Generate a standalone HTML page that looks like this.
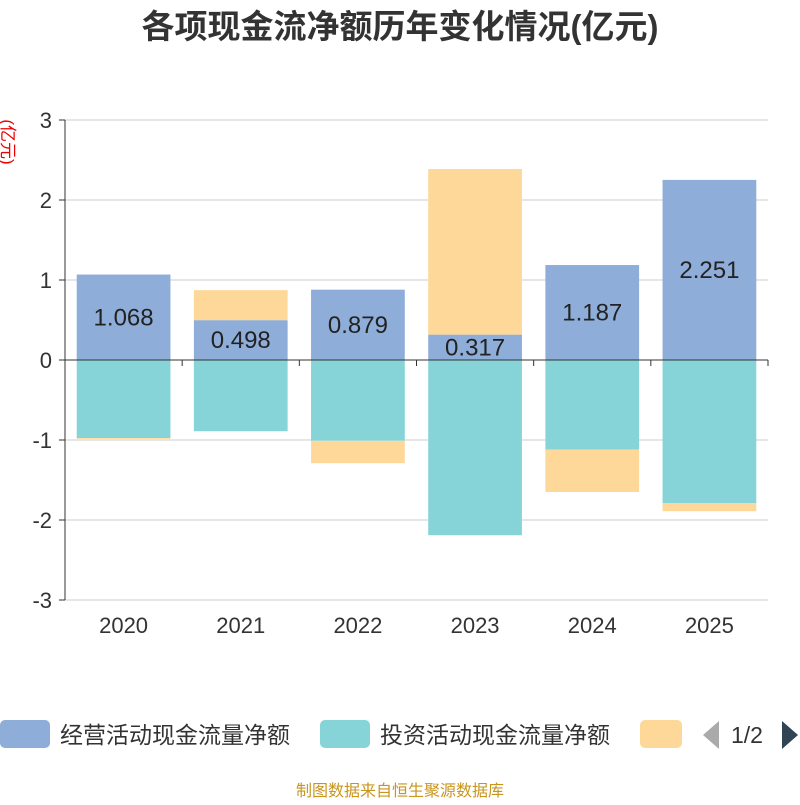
<!DOCTYPE html>
<html><head><meta charset="utf-8">
<style>
body{margin:0;background:#fff;}
svg text{font-family:"Liberation Sans","Noto Sans CJK SC",sans-serif;}
</style></head>
<body>
<svg id="c" width="800" height="800" xmlns="http://www.w3.org/2000/svg">
<text x="400" y="38" text-anchor="middle" font-size="33" font-weight="bold" fill="#333">各项现金流净额历年变化情况(亿元)</text>
<text transform="translate(2,142) rotate(90)" font-size="17" fill="#e00" text-anchor="middle">(亿元)</text>
<g id="grid"></g><g id="bars"></g><g id="axes"></g>
<g>
<rect x="0" y="720" width="50" height="28" rx="5" fill="#8eadd9"/>
<text x="60" y="743" font-size="23" fill="#333">经营活动现金流量净额</text>
<rect x="320" y="720" width="50" height="28" rx="5" fill="#86d4d8"/>
<text x="380" y="743" font-size="23" fill="#333">投资活动现金流量净额</text>
<rect x="640" y="720" width="42" height="28" rx="5" fill="#fdd898"/>
<polygon points="719,721 719,749 703,735" fill="#aaa"/>
<text x="731" y="743" font-size="23" fill="#333">1/2</text>
<polygon points="782,721 782,749 798,735" fill="#2f4554"/>
</g>
<text x="400" y="796" text-anchor="middle" font-size="16" fill="#c8961e">制图数据来自恒生聚源数据库</text>
</svg>
<script>
const years=["2020","2021","2022","2023","2024","2025"];
const operating=[1.068,0.498,0.879,0.317,1.187,2.251];
const investing=[-0.975,-0.89,-1.01,-2.19,-1.12,-1.79];
const financing=[-0.01,0.375,-0.28,2.07,-0.53,-0.1];
const yTicks=[3,2,1,0,-1,-2,-3];
const NS="http://www.w3.org/2000/svg";
const x0=65,x1=768,yTop=120,yBot=600,yMin=-3,yMax=3;
const y=v=>yTop+(yMax-v)/(yMax-yMin)*(yBot-yTop);
const bw=(x1-x0)/years.length;
const xc=i=>x0+bw*(i+0.5);
function mk(tag,attrs,parent){const e=document.createElementNS(NS,tag);for(const k in attrs)e.setAttribute(k,attrs[k]);document.getElementById(parent).appendChild(e);return e;}
yTicks.forEach(t=>{
 const g=mk("line",{x1:x0,x2:x1,y1:y(t),y2:y(t),stroke:"#ccc","stroke-width":1},"grid");
 
 
 const tk=mk("line",{x1:x0-6,x2:x0,y1:y(t),y2:y(t),stroke:"#333"},"axes");
 
 
 const l=mk("text",{x:x0-13,y:y(t)+8,"text-anchor":"end","font-size":22,fill:"#333"},"axes");
 l.textContent=t;
 
 
});
const ya=mk("line",{x1:x0,x2:x0,y1:yTop,y2:yBot,stroke:"#333"},"axes");


const xa=mk("line",{x1:x0,x2:x1,y1:y(0),y2:y(0),stroke:"#333"},"axes");


for(let i=0;i<=years.length;i++){
 const t=mk("line",{x1:x0+bw*i,x2:x0+bw*i,y1:y(0),y2:y(0)+6,stroke:"#333"},"axes");
 
 
}
const w=bw*0.8;
function bar(i,a,b,fill,name){
 const top=y(Math.max(a,b)),bot=y(Math.min(a,b));
 const r=mk("rect",{x:xc(i)-w/2,y:top,width:w,height:Math.max(0,bot-top),fill:fill},"bars");
 
 
}
years.forEach((yr,i)=>{
 let pos=0,neg=0;
 const vals=[[operating[i],"#8eadd9","bar-operating-"+yr],[investing[i],"#86d4d8","bar-investing-"+yr],[financing[i],"#fdd898","bar-financing-"+yr]];
 vals.forEach(([v,c,n])=>{
  if(v>=0){bar(i,pos,pos+v,c,n);pos+=v;}else{bar(i,neg,neg+v,c,n);neg+=v;}
 });
 const lb=mk("text",{x:xc(i),y:y(operating[i]/2)+8,"text-anchor":"middle","font-size":24,fill:"#222"},"bars");
 lb.textContent=operating[i].toFixed(3);
 
 
 const xl=mk("text",{x:xc(i),y:yBot+33,"text-anchor":"middle","font-size":22,fill:"#333"},"axes");
 xl.textContent=yr;
 
 
});
</script>
</body></html>
